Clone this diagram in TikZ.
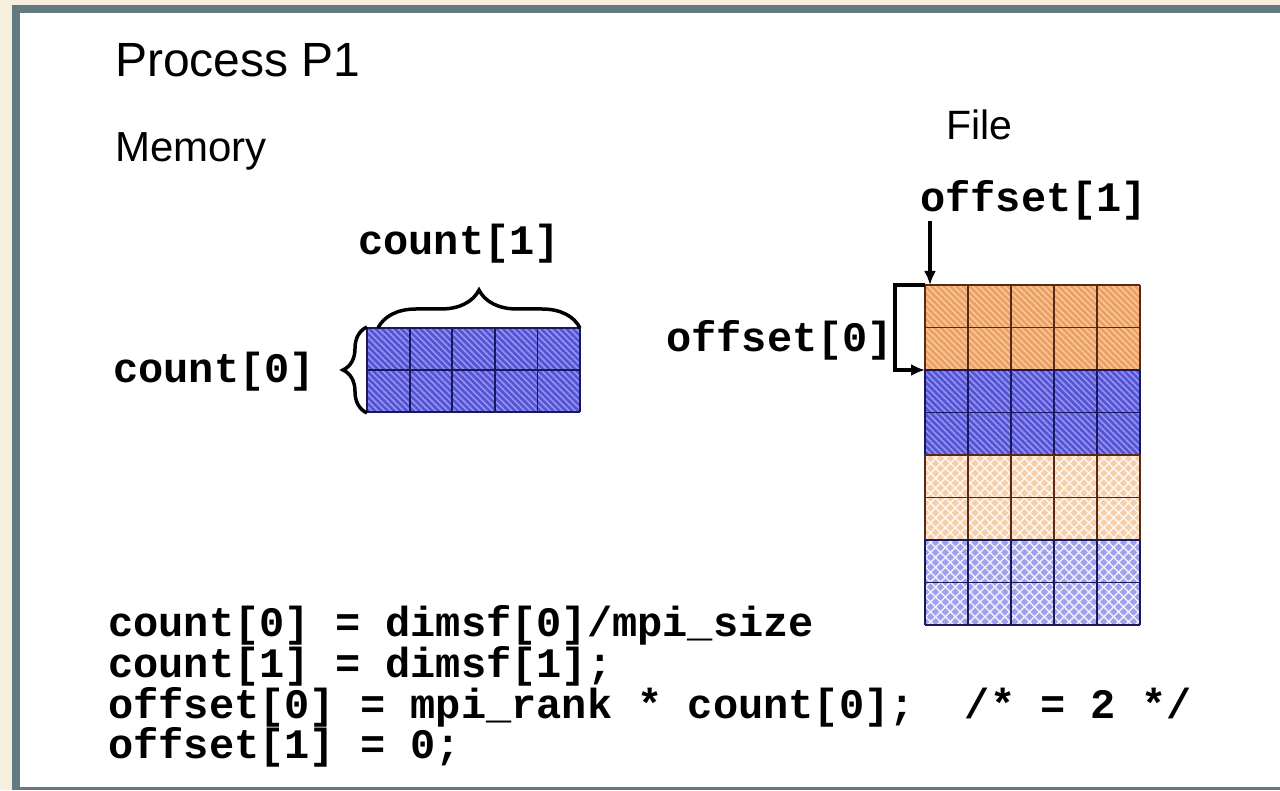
\documentclass[tikz,border=0pt]{standalone}
\usepackage{fontspec}
\setmainfont{Liberation Sans}
\setmonofont{Liberation Mono}
\usetikzlibrary{patterns.meta,decorations.pathreplacing,arrows.meta,positioning}

\definecolor{cream}{RGB}{246,239,221}
\definecolor{frame}{RGB}{100,122,130}
\definecolor{hatchblue}{RGB}{84,84,212}
\definecolor{stripeblue}{RGB}{150,150,242}
\definecolor{hatchorange}{RGB}{234,160,100}
\definecolor{stripeorange}{RGB}{250,200,150}
\definecolor{weaveorange}{RGB}{246,206,170}
\definecolor{weaveblue}{RGB}{160,160,238}
\definecolor{navyline}{RGB}{24,24,90}
\definecolor{brownline}{RGB}{90,40,20}

\begin{document}
\begin{tikzpicture}[x=1pt,y=1pt,
  title/.style={anchor=base west,inner sep=0pt,font=\fontsize{48}{48}\selectfont},
  head/.style={anchor=base west,inner sep=0pt,font=\fontsize{42}{42}\selectfont},
  code/.style={anchor=base west,inner sep=0pt,font=\ttfamily\bfseries\fontsize{42}{42}\selectfont},
  band/.style={minimum width=215pt,minimum height=85pt,inner sep=0pt,outer sep=0pt},
  bluehatch/.style={fill=hatchblue,postaction={pattern color=stripeblue,
    pattern={Lines[angle=-45,distance=4.5pt,line width=1.6pt]}}},
  orangehatch/.style={fill=hatchorange,postaction={pattern color=stripeorange,
    pattern={Lines[angle=-45,distance=4.5pt,line width=1.6pt]}}},
  blueweave/.style={fill=weaveblue,postaction={pattern color=white!85!weaveblue,
    pattern={Hatch[angle=45,distance=7pt,line width=1.4pt]}}},
  orangeweave/.style={fill=weaveorange,postaction={pattern color=white!85!weaveorange,
    pattern={Hatch[angle=45,distance=7pt,line width=1.4pt]}}},
  curly/.style={decorate,line width=3.5pt,decoration={brace,amplitude=#1}},
  arr/.style={line width=3.5pt,-{Latex[length=14pt,width=12pt]}}]

  % frame of the slide
  \fill[cream] (0,0) rectangle (1280,790);
  \fill[frame] (12,0) rectangle (1280,785);
  \fill[white] (20,3) rectangle (1280,777);

  % headings
  \node[title] (proc) at (115,713) {Process P1};
  \node[head] (memory) at (115,628) {Memory};
  \node[head,font=\fontsize{41}{41}\selectfont] (file) at (946,650) {File};

  % memory block, 2 x 5
  \node[band,minimum width=213pt,minimum height=84pt,bluehatch] (mem) at (473.5,420) {};
  \draw[navyline,line width=1.8pt,shift={(mem.south west)},xstep=42.6,ystep=42]
    (0,0) grid (213,84);

  \draw[curly=38pt] ([xshift=11pt]mem.north west) -- (mem.north east);
  \draw[curly=24pt] ([yshift=-1pt]mem.south west) -- ([yshift=1pt]mem.north west);
  \node[code] (cnt1) at (358,535) {count[1]};
  \node[code] (cnt0) at (113,407) {count[0]};

  % file, 8 x 5
  \foreach \i/\sty/\lc in {1/orangehatch/brownline,2/bluehatch/navyline,
                           3/orangeweave/brownline,4/blueweave/navyline}
  {
    \node[band,\sty] (band\i) at (1032.5,547.5-85*\i) {};
    \draw[\lc,line width=1.8pt,shift={(band\i.south west)},xstep=43,ystep=42.5]
      (0,0) grid (215,85);
  }

  % offsets
  \node[code] (off1) at (920,578) {offset[1]};
  \node[code] (off0) at (666,438) {offset[0]};
  \draw[arr] ([xshift=5pt]band1.north west |- off1.south) -- ([xshift=5pt]band1.north west);
  \draw[arr] (band1.north west) -- ++(-30,0) |- (band1.south west);

  % the code below
  \node[code] (l1) at (108,153) {count[0] = dimsf[0]/mpi\_size};
  \node[code] (l2) at (108,112) {count[1] = dimsf[1];};
  \node[code] (l3) at (108,71) {offset[0] = mpi\_rank * count[0];~ /* = 2 */};
  \node[code] (l4) at (108,31) {offset[1] = 0;};
\end{tikzpicture}
\end{document}
